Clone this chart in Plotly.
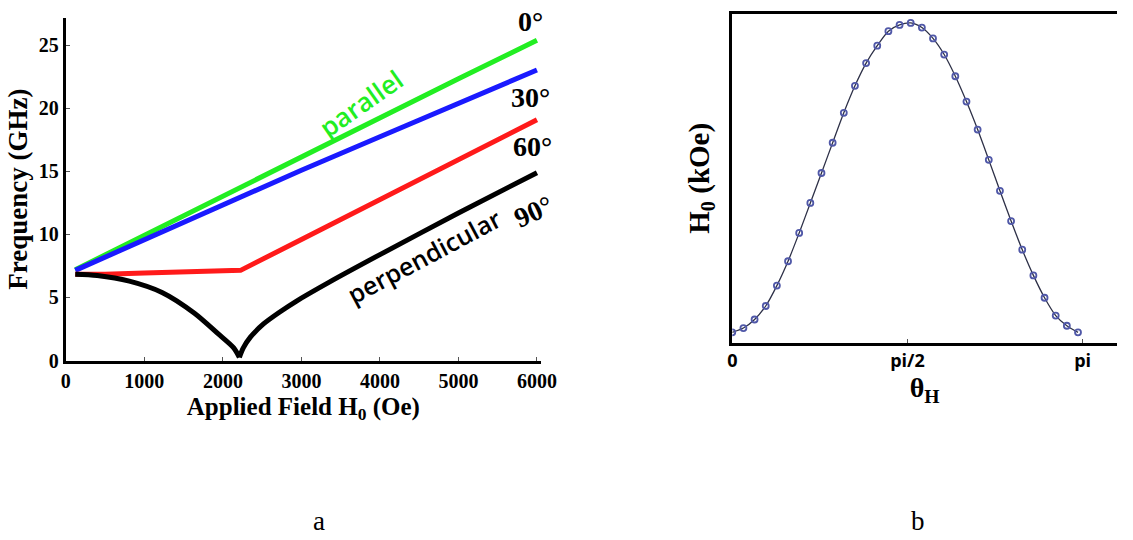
import plotly.graph_objects as go

# ---- panel a data ----
H_par = [120, 1000, 2000, 3000, 4000, 5000, 6000]
f_0deg = [7.2, 9.95, 13.05, 16.15, 19.25, 22.35, 25.4]
f_30deg = [7.15, 9.6, 12.35, 15.1, 17.75, 20.4, 23.05]

H_60 = [120, 500, 1000, 1500, 2000, 2225, 3000, 4000, 5000, 6000]
f_60deg = [6.85, 6.85, 6.95, 7.0, 7.08, 7.15, 9.6, 12.75, 15.9, 19.1]

# 90 deg branch below and above the saturation field
H_90_low = [120, 400, 809, 1225, 1638, 1934, 2138, 2210]
f_90_low = [6.85, 6.75, 6.3, 5.4, 3.75, 2.15, 1.0, 0.25]
H_90_high = [2210, 2260, 2350, 2517, 2725, 2933, 3350, 4000, 5000, 6000]
f_90_high = [0.25, 1.0, 1.85, 2.9, 3.85, 4.7, 6.2, 8.4, 11.7, 14.9]

x_ticks_a = [0, 1000, 2000, 3000, 4000, 5000, 6000]
y_ticks_a = [0, 5, 10, 15, 20, 25]

# ---- panel b data ----
theta_b = [0.0, 0.1, 0.2, 0.3, 0.4, 0.5, 0.6, 0.7, 0.8, 0.9, 1.0, 1.1, 1.2, 1.3, 1.4, 1.5,
           1.6, 1.7, 1.8, 1.9, 2.0, 2.1, 2.2, 2.3, 2.4, 2.5, 2.6, 2.7, 2.8, 2.9, 3.0, 3.1]
H0_b = [0.032, 0.045, 0.071, 0.112, 0.174, 0.248, 0.334, 0.425, 0.516, 0.608, 0.699, 0.781,
        0.850, 0.903, 0.947, 0.966, 0.972, 0.958, 0.925, 0.876, 0.810, 0.733, 0.648, 0.556,
        0.462, 0.370, 0.283, 0.205, 0.137, 0.083, 0.052, 0.032]
x_ticks_b = [0, 1.5708, 3.1416]
x_ticklabels_b = ["0", "pi/2", "pi"]

W, Hh = 1133, 540
serif = "Liberation Serif"
sans = "Open Sans"

fig = go.Figure()

fig.add_trace(go.Scatter(x=H_par, y=f_0deg, mode="lines", line=dict(color="#22ee22", width=5),
                         xaxis="x", yaxis="y", showlegend=False))
fig.add_trace(go.Scatter(x=H_par, y=f_30deg, mode="lines", line=dict(color="#1a1aff", width=5),
                         xaxis="x", yaxis="y", showlegend=False))
fig.add_trace(go.Scatter(x=H_60, y=f_60deg, mode="lines", line=dict(color="#ff1a1a", width=5),
                         xaxis="x", yaxis="y", showlegend=False))
fig.add_trace(go.Scatter(x=H_90_low, y=f_90_low, mode="lines",
                         line=dict(color="black", width=5, shape="spline", smoothing=0.8),
                         xaxis="x", yaxis="y", showlegend=False))
fig.add_trace(go.Scatter(x=H_90_high, y=f_90_high, mode="lines",
                         line=dict(color="black", width=5, shape="spline", smoothing=0.8),
                         xaxis="x", yaxis="y", showlegend=False))

fig.add_trace(go.Scatter(x=theta_b, y=H0_b, mode="lines+markers",
                         line=dict(color="#2e3148", width=1.3, shape="spline", smoothing=0.8),
                         marker=dict(symbol="circle-open", size=6, color="#5058a8", line=dict(width=1.8)),
                         xaxis="x2", yaxis="y2", showlegend=False))

ax_a_x = [62 / W, 546 / W]
ax_a_y = [(Hh - 368) / Hh, (Hh - 18) / Hh]
ax_b_x = [741 / W, 1.0]
ax_b_y = [(Hh - 350) / Hh, (Hh - 14) / Hh]

fig.update_layout(
    width=W, height=Hh,
    margin=dict(l=0, r=0, t=0, b=0),
    paper_bgcolor="white", plot_bgcolor="white",
    xaxis=dict(domain=ax_a_x, range=[0, 6050], tickvals=x_ticks_a, ticks="inside", ticklen=4,
               tickwidth=1, tickcolor="#555", showline=True, linecolor="black", linewidth=3,
               showgrid=False, zeroline=False,
               tickfont=dict(family=serif, size=20, color="black", weight="bold"),
               title=dict(text="Applied Field H<sub>0</sub> (Oe)", standoff=7,
                          font=dict(family=serif, size=25, color="black", weight="bold")),
               anchor="y"),
    yaxis=dict(domain=ax_a_y, range=[0, 27.2], tickvals=y_ticks_a, ticks="inside", ticklen=4,
               tickwidth=1, tickcolor="#555", showline=True, linecolor="black", linewidth=3,
               showgrid=False, zeroline=False,
               tickfont=dict(family=serif, size=20, color="black", weight="bold"),
               title=dict(text="Frequency (GHz)", standoff=4,
                          font=dict(family=serif, size=27, color="black", weight="bold")),
               anchor="x"),
    xaxis2=dict(domain=ax_b_x, range=[0, (W - 741) / (357 / 3.14159)], tickvals=x_ticks_b,
                ticktext=x_ticklabels_b, ticks="inside", ticklen=4, tickwidth=1, tickcolor="#555",
                showline=True, mirror=True, linecolor="black", linewidth=3, showgrid=False,
                zeroline=False,
                tickfont=dict(family=sans, size=18, color="black", weight="bold"),
                title=dict(text="θ<sub>H</sub>", standoff=4,
                           font=dict(family=serif, size=28, color="black", weight="bold")),
                anchor="y2"),
    yaxis2=dict(domain=ax_b_y, range=[0, 1], showticklabels=False, ticks="",
                showline=True, linecolor="black", linewidth=3, showgrid=False, zeroline=False,
                title=dict(text="H<sub>0</sub> (kOe)", standoff=12,
                           font=dict(family=serif, size=29, color="black", weight="bold")),
                anchor="x2"),
)

deg_font = dict(family=serif, size=28, color="black", weight="bold")
annos = [
    dict(x=5920, y=26.9, text="0°", font=deg_font, textangle=0),
    dict(x=5920, y=20.9, text="30°", font=deg_font, textangle=0),
    dict(x=5940, y=17.0, text="60°", font=deg_font, textangle=0),
    dict(x=5960, y=11.8, text="90°", font=deg_font, textangle=-24),
    dict(x=3764, y=20.4, text="parallel", font=dict(family=sans, size=26, color="#22ee22", weight=600), textangle=-35),
    dict(x=4560, y=8.3, text="perpendicular", font=dict(family=sans, size=25, color="black", weight=600), textangle=-28),
]
for a in annos:
    fig.add_annotation(xref="x", yref="y", showarrow=False, xanchor="center", yanchor="middle", **a)

fig.add_annotation(xref="paper", yref="paper", x=320 / W, y=(Hh - 532) / Hh, text="a",
                   xanchor="center", yanchor="middle",
                   showarrow=False, font=dict(family=serif, size=27, color="black"))
fig.add_annotation(xref="paper", yref="paper", x=930 / W, y=(Hh - 532) / Hh, text="b",
                   xanchor="center", yanchor="middle",
                   showarrow=False, font=dict(family=serif, size=27, color="black"))

fig.write_html("out.html")
